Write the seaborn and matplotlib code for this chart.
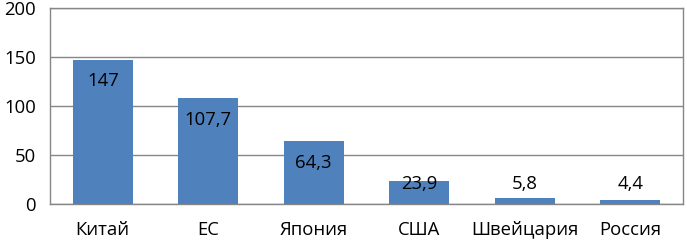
import matplotlib
matplotlib.use("Agg")
import matplotlib.pyplot as plt
import seaborn as sns
import pandas as pd

categories = ["Китай", "ЕС", "Япония", "США", "Швейцария", "Россия"]
values = [147, 107.7, 64.3, 23.9, 5.8, 4.4]
labels = ["147", "107,7", "64,3", "23,9", "5,8", "4,4"]
yticks = [0, 50, 100, 150, 200]

sns.set_style("white")
plt.rcParams["font.family"] = ["Open Sans", "DejaVu Sans"]

df = pd.DataFrame({"cat": categories, "val": values})
fig = plt.figure(figsize=(6.87, 2.41), dpi=100)
ax = fig.add_axes([0.0728, 0.1535, 0.9212, 0.8135])
sns.barplot(data=df, x="cat", y="val", color="#4F81BD", saturation=1, width=0.57,
            linewidth=0, edgecolor="none", ax=ax, zorder=3)
ax.set_ylim(0, 200)
ax.set_yticks(yticks)
ax.set_yticklabels([str(t) for t in yticks])
ax.yaxis.grid(True, color="#868686", linewidth=1, zorder=0)
ax.set_axisbelow(True)
for s in ax.spines.values():
    s.set_color("#868686")
    s.set_linewidth(1)
ax.set_xlabel("")
ax.set_ylabel("")
ax.tick_params(axis="both", length=0, labelsize=13.3, colors="black")
ax.tick_params(axis="x", pad=12)
ax.tick_params(axis="y", pad=10)
for i, (v, lab) in enumerate(zip(values, labels)):
    ax.text(i, max(v - 22, 20), lab, ha="center", va="center", fontsize=13.3, color="black", zorder=5)
fig.savefig("out.png", dpi=100)
